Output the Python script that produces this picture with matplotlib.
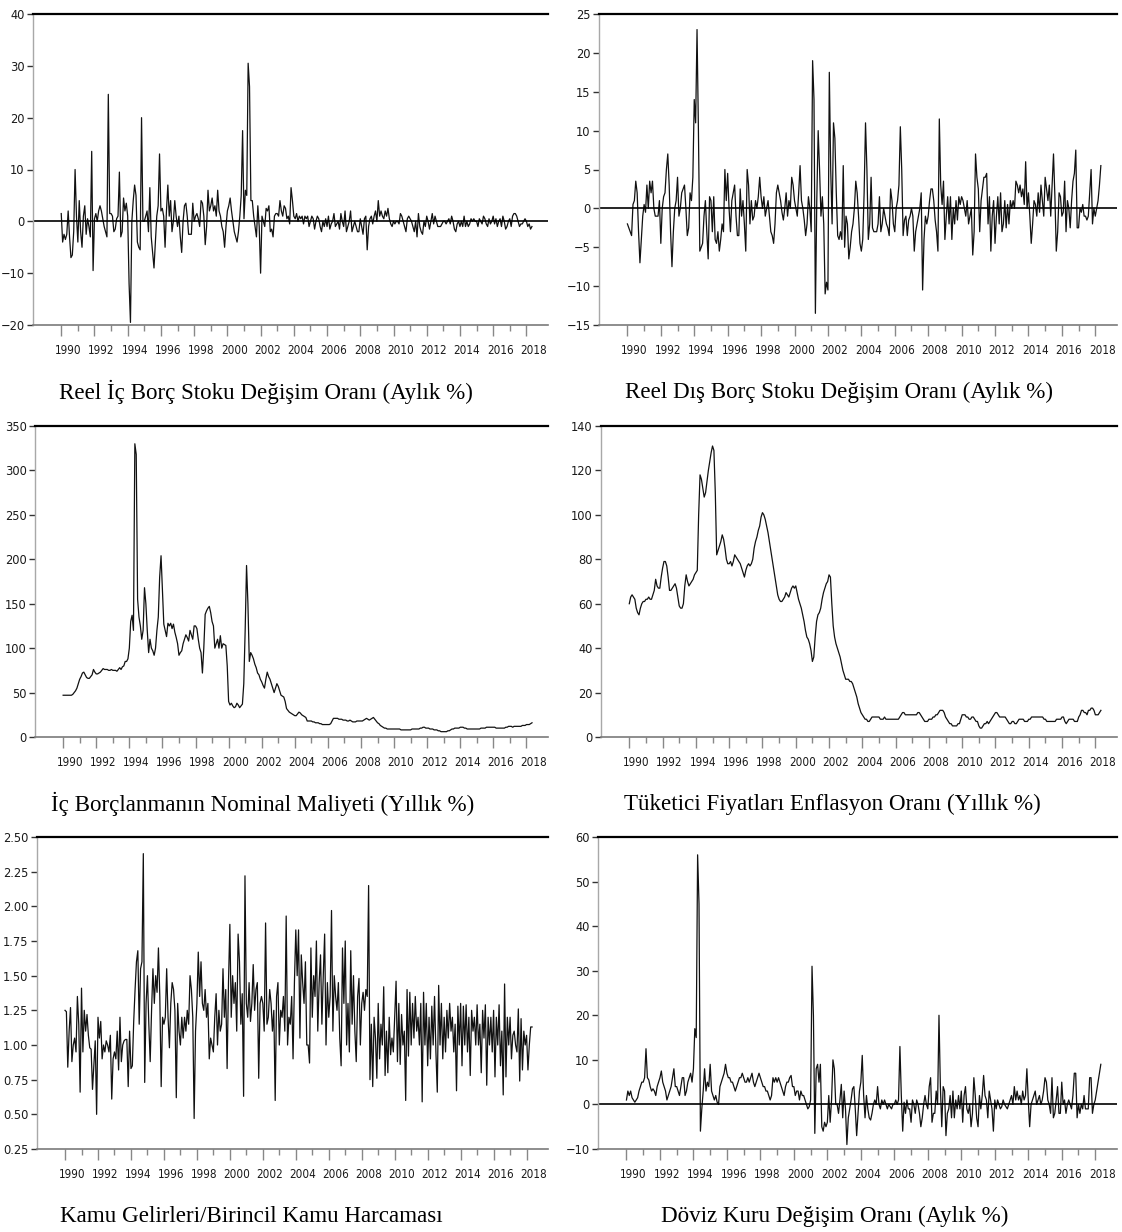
import numpy as np
import matplotlib
matplotlib.use("Agg")
from matplotlib import pyplot as plt
from matplotlib import font_manager as fm
from matplotlib.transforms import ScaledTranslation

# monthly data 1990:01 - 2018:05
reel_ic_borc = [
    1.5, -4, -2.5, -3.5, -2.5, 2, -3, -7, -6.5, -2, 10, 1,
    -4, 4, -2, -5, 1, 3, -2.5, 0.5, -1, -3, 13.5, -9.5,
    0.5, 1.5, 0, 2, 3, 2, 0.5, -1, -2, -3, 24.5, 1.5,
    1.5, 1, -2, -1.5, 0.5, 1, 9.5, -3, -2, 4.5, 2, 3.5,
    1, -12, -19.5, 0, 4, 7, 5, -4, -5, -5.5, 20, 0,
    0, 1, 2, -2, 6.5, -3, -6, -9, -4, 1, 3, 13,
    2, 2.5, 1, -5, 2, 7, 1, 4, -2, 0, 4, 1,
    -1, 1, -3, -6, 0, 3, 3.5, 1, -2.5, -2.5, -2.5, 3.5,
    0, 1, 1.5, 0.5, -1, 4, 3.5, 1, -4.5, -1, 6, 2,
    3, 4.5, 2, 3, 1, 6, 2, 1, -1, -2, -5, -1,
    2, 3, 4.5, 2, 0, -2, -3, -4, -2, 1, 5, 17.5,
    0.5, 6, 5, 30.5, 26, 4, 4, 1, -1, -3, 3, -1,
    -10, 1, 0, -1, 2.5, 2, 3, -2, -1.5, -3, 1, 1.5,
    1.5, 1, 4, 2, 1, 3, 2.5, 0.5, 1, -0.5, 6.5, 4,
    1, 0.5, 1.5, 0, 1, 0.5, 1, -0.5, 1, 0.5, 1, -1,
    0, 1, 0.5, -1.5, 0, 1, 0.5, -1, -2, 0, -1, 0.5,
    -1, 1, -1.5, -0.5, 0, 1.5, -1, -0.5, 0, -1.5, 1.5, 0,
    -1, 2, -2, -1, 0, 2, -2, -1, 0, -1, -2, -2,
    0.5, -1, -2.5, 0.5, 1, -5.5, -1, 0.5, 1, -0.5, 1, 2,
    0, 4, 1, 2, 1, 0.5, 2, 1, 2.5, 0.5, -0.5, -1,
    0, -0.5, 0, 0, -0.5, 1.5, 1, 0, -1, -2, 0.5, 1,
    0.5, 0, -1, -2, 0, -3, 1.5, -1, -2, -2.5, 0, -1,
    1, 0, -1.5, 0, 1.5, -0.5, 1, 0, -1, -1, -1, -0.5,
    0, 0, -0.5, 0, 0.5, -0.5, 1, 0, -1.5, -2, -0.5, 0,
    -1, 0, -1, 1, -1, 0, -1, -0.5, 0.5, 0, 0.5, 0,
    0, -1, 0.5, 0, -0.5, 1, 0.5, -0.5, -1, 0.5, -0.5, 0,
    1, -0.5, 0.5, -1, 0, 0.5, -1, 1, 0, -1.5, -1, 0,
    0.5, -1, 1, 1.5, 1.5, 1, 0, -1, -0.5, -0.5, 0, 0.5,
    0, -1, -0.5, -1.5, -1,
]

reel_dis_borc = [
    -2, -2.5, -3, -3.5, 0.5, 1, 3.5, 2, -3, -7, -4, -1,
    0.5, -0.5, 3, 0, 3.5, 2, 3.5, 0, -1, -1, -1, 1,
    -4.5, 0, 1.5, 2, 5, 7, 3, -3, -7.5, -3, 0, 1,
    4, -1, 0, 2, 2.5, 3, 0, -3.5, -2.5, 2, 1, 4,
    14, 11, 23, 10, -5.5, -5, -4.5, -1, 1, -3, -6.5, 1.5,
    1, -3, 1.5, -4, -4.5, -3, -5.5, -4, -2, -3, 5, 1,
    4.5, 0, -3, 1, 2, 3, -1, -3.5, -3.5, 2.5, -1, 1,
    -2, -5.5, 5, 3, -2, 1, -1.5, -1, 1, 0, 1.5, 4,
    1.5, 0, 1.5, -1, 0, 1, -1, -3, -3.5, -4.5, -2, 2,
    3, 2, 1, -0.5, -1.5, 0, 2, -1, 1, 0, 4, 3,
    1, 0, -1, 2, 5.5, 1, 0, -1.5, -3.5, -2, 1.5, 0,
    -3, 19, 14, -13.5, 1, 10, 5, -1, 1.5, -2, -11, -9.5,
    -10.5, 17.5, 5, -2, 11, 9, 2, -3.5, -4, -3, -4, 5.5,
    -5, -1, -2, -6.5, -5, -3, -2, 0, 3.5, 2, -1, -4.5,
    -5.5, -4, 2, 11, 5, -4, -2, 4, -2.5, -3, -3, -3,
    -2, 1.5, -3, -2, 0, -1, -2, -2.5, -3.5, 2.5, 1, -2,
    -3, 0, 1, 3, 10.5, 5, -3.5, -1.5, -1, -3.5, -1.5, -1,
    0, -1, -5.5, -3, -2, -1, 0, 2, -10.5, -4, -1, -2,
    -1, 1, 2.5, 2.5, 1, -1.5, -3, -5.5, 11.5, 3, 0.5, 3.5,
    -4, -1, 1.5, -2, 1.5, -4, 0, -2, 1, -1.5, 1.5, 0.5,
    1.5, 1, 0, -1, 1, -2, -1, 0, -6, -3, 7, 4,
    2.5, -3, 1, 2.5, 4, 4, 4.5, -2, 1.5, -5.5, -1, 1,
    -4.5, -1, 1.5, -2, 2, -3, -2, 1, -2.5, 0.5, -2, 1,
    0, 1, 0, 3.5, 3, 2, 3, 1.5, 2.5, 0.5, 6, 0,
    2, -1, -4.5, -2, 1, 0.5, -1, 2, -0.5, 3, 1, -1,
    4, 2.5, 1, 3, -1, 3, 7, 1.5, -5.5, -3, 2, 1.5,
    -1, -0.5, 3.5, -3, 1, 0, -2.5, 1, 3.5, 4.5, 7.5, -2.5,
    -2.5, 0, -0.5, 0.5, -1, -1, -1.5, -1, 2, 5, -2, 0,
    -1, 0, 1, 3, 5.5,
]

ic_borc_maliyet = [
    47, 47, 47, 47, 47, 47, 47, 48, 50, 52, 55, 60,
    65, 68, 72, 73, 70, 67, 66, 66, 68, 70, 76, 73,
    71, 71, 72, 73, 75, 77, 76, 76, 76, 75, 75, 76,
    75, 75, 75, 74, 76, 78, 76, 79, 80, 85, 85, 88,
    100, 130, 137, 120, 330, 318, 155, 135, 125, 110, 120, 168,
    150, 120, 95, 110, 100, 97, 92, 100, 120, 135, 180, 204,
    165, 127, 120, 113, 128, 125, 128, 122, 127, 118, 112, 105,
    92, 95, 97, 105, 110, 115, 112, 108, 120, 115, 110, 125,
    125, 122, 110, 100, 95, 72, 100, 138, 142, 145, 147, 140,
    130, 125, 100, 105, 110, 100, 114, 100, 105, 104, 103, 80,
    40, 36, 38, 35, 33, 34, 38, 36, 33, 35, 37, 60,
    120, 193, 150, 85, 95, 92, 88, 82, 78, 72, 70, 65,
    62, 58, 55, 65, 73, 68, 65, 60, 55, 50, 55, 60,
    57, 52, 47, 46, 45, 40, 32, 30, 28, 27, 26, 25,
    24, 24, 26, 28, 27, 25, 24, 23, 22, 18, 18, 18,
    18, 17, 17, 16, 16, 16, 15, 15, 14, 14, 14, 14,
    14, 14, 15, 18, 21, 21, 21, 21, 20, 20, 20, 19,
    19, 19, 18, 18, 19, 18, 17, 17, 17, 18, 18, 18,
    18, 18, 19, 20, 21, 20, 19, 20, 21, 22, 20, 18,
    16, 15, 13, 12, 11, 10, 10, 9, 9, 9, 9, 9,
    9, 9, 9, 9, 9, 8, 8, 8, 8, 8, 8, 8,
    8, 9, 9, 9, 9, 9, 9, 10, 10, 11, 11, 10,
    10, 10, 9, 9, 9, 8, 8, 8, 7, 7, 6, 6,
    6, 6, 6, 7, 7, 8, 9, 9, 10, 10, 10, 10,
    11, 11, 11, 10, 10, 9, 9, 9, 9, 9, 9, 9,
    9, 9, 9, 10, 10, 10, 10, 11, 11, 11, 11, 11,
    11, 11, 10, 10, 10, 10, 10, 10, 10, 11, 11, 12,
    12, 12, 11, 12, 12, 12, 12, 12, 12, 13, 13, 13,
    14, 14, 14, 15, 16,
]

tufe = [
    60, 63, 64, 63, 62, 58, 56, 55, 58, 60, 61, 61,
    62, 62, 63, 62, 62, 64, 66, 71, 68, 67, 67, 72,
    76, 79, 79, 77, 72, 66, 66, 67, 68, 69, 67, 63,
    59, 58, 58, 60, 68, 73, 70, 68, 69, 70, 71, 73,
    74, 75, 100, 118, 116, 112, 108, 110, 115, 120, 124, 128,
    131, 129, 110, 82, 84, 86, 88, 91, 89, 85, 80, 78,
    78, 79, 77, 79, 82, 81, 80, 79, 78, 76, 74, 72,
    75, 77, 78, 77, 78, 80, 85, 88, 90, 93, 95, 99,
    101, 100, 98, 95, 92, 88, 84, 80, 76, 72, 68, 64,
    62, 61, 61, 62, 63, 65, 64, 63, 65, 67, 68, 67,
    68, 65, 62, 60, 58, 55, 52, 48, 45, 44, 42, 39,
    34, 36, 45, 52, 55, 56, 58, 62, 65, 67, 69, 70,
    73, 72, 60, 50, 45, 42, 40, 38, 36, 33, 30, 28,
    26, 26, 26, 25, 25, 24, 22, 20, 18, 15, 13, 11,
    10, 9, 8, 8, 7, 7, 8, 9, 9, 9, 9, 9,
    9, 8, 8, 8, 9, 8, 8, 8, 8, 8, 8, 8,
    8, 8, 8, 9, 10, 11, 11, 10, 10, 10, 10, 10,
    10, 10, 10, 10, 11, 11, 10, 9, 8, 7, 7, 7,
    8, 8, 8, 9, 9, 10, 10, 11, 12, 12, 12, 11,
    9, 8, 7, 6, 6, 5, 5, 5, 5, 6, 6, 8,
    10, 10, 10, 9, 9, 8, 8, 9, 9, 8, 7, 7,
    5, 4, 4, 5, 6, 6, 7, 6, 7, 8, 9, 10,
    11, 11, 10, 9, 9, 9, 9, 9, 8, 7, 6, 6,
    7, 7, 6, 6, 7, 8, 8, 8, 8, 7, 7, 7,
    8, 8, 9, 9, 9, 9, 9, 9, 9, 9, 9, 8,
    8, 7, 7, 7, 7, 7, 7, 7, 8, 8, 8, 8,
    9, 9, 7, 6, 7, 8, 8, 8, 8, 7, 7, 7,
    9, 10, 12, 12, 11, 11, 10, 12, 12, 13, 13, 12,
    10, 10, 10, 11, 12,
]

kamu_gelir_harcama = [
    1.25, 1.24, 0.84, 1.1, 1.27, 0.88, 1.0, 1.05, 0.95, 1.35, 1.15, 0.66,
    1.41, 0.95, 1.25, 1.1, 1.22, 1.07, 0.98, 0.97, 0.68, 0.85, 1.03, 0.5,
    1.2, 1.05, 1.17, 0.9, 1.0, 0.95, 1.03, 1.0, 0.95, 1.07, 0.61, 0.9,
    0.95, 0.9, 1.1, 0.82, 1.2, 0.88, 1.0, 1.03, 1.04, 1.04, 0.7, 1.1,
    0.83, 0.85, 1.17, 1.4, 1.6, 1.68, 1.15, 1.55, 1.6, 2.38, 0.73, 1.3,
    1.5, 1.15, 0.88, 1.25, 1.55, 1.3, 1.5, 1.38, 1.7, 1.35, 0.7, 1.2,
    1.15, 1.2, 1.55, 1.2, 0.98, 1.3, 1.45, 1.4, 1.25, 0.62, 1.3, 1.1,
    1.0, 1.2, 1.05, 1.2, 1.1, 1.25, 1.15, 1.5, 1.4, 1.2, 0.47, 1.1,
    1.3, 1.67, 1.35, 1.6, 1.3, 1.25, 1.4, 1.2, 1.3, 0.9, 1.05, 1.0,
    0.95, 1.2, 1.37, 1.0, 1.25, 1.1, 1.15, 1.55, 1.2, 1.4, 0.83, 1.45,
    1.87, 1.2, 1.5, 1.3, 1.45, 1.1, 1.8, 1.6, 1.15, 1.37, 0.63, 2.22,
    1.3, 1.2, 1.45, 1.17, 1.3, 1.58, 1.25, 1.4, 1.45, 0.76, 1.3, 1.35,
    1.3, 1.1, 1.88, 1.15, 1.2, 1.4, 1.3, 1.1, 1.25, 0.6, 1.35, 1.45,
    1.0, 1.25, 1.2, 1.35, 1.1, 1.93, 1.0, 1.2, 1.15, 1.35, 0.9, 1.45,
    1.83, 1.5, 1.83, 1.05, 1.65, 1.45, 1.3, 1.6, 1.0, 1.0, 0.87, 1.7,
    1.2, 1.5, 1.35, 1.75, 1.1, 1.45, 1.65, 1.15, 1.5, 1.8, 1.0, 1.45,
    1.2, 1.35, 1.97, 1.1, 1.5, 1.35, 1.25, 1.45, 1.05, 0.85, 1.7, 1.3,
    1.75, 1.0, 1.3, 0.95, 1.68, 1.15, 1.5, 1.1, 0.88, 1.35, 1.48, 1.0,
    1.3, 1.38, 1.25, 1.4, 1.35, 2.15, 0.75, 1.15, 0.7, 1.2, 1.05, 0.76,
    1.3, 0.9, 1.15, 1.0, 1.42, 0.78, 1.1, 0.8, 1.2, 0.93, 1.05, 0.95,
    1.2, 1.46, 0.88, 1.3, 0.86, 1.22, 1.0, 1.1, 0.6, 1.4, 0.92, 1.38,
    1.0, 1.3, 1.05, 1.35, 1.1, 1.2, 1.0, 1.3, 0.59, 1.38, 1.0, 1.3,
    0.85, 1.2, 0.9, 1.28, 1.0, 1.35, 0.95, 0.66, 1.43, 1.0, 1.3, 0.9,
    1.2, 0.95, 1.25, 1.05, 1.3, 1.1, 1.2, 0.95, 1.15, 0.67, 1.28, 1.0,
    1.3, 0.85, 1.28, 1.0, 1.29, 0.95, 1.2, 0.78, 1.25, 1.1, 1.2, 1.0,
    1.29, 1.0, 1.15, 0.8, 1.25, 1.05, 1.29, 0.71, 1.2, 1.0, 1.2, 0.95,
    1.25, 0.77, 1.2, 1.0, 1.29, 0.85, 1.1, 0.64, 1.44, 0.77, 1.2, 1.0,
    1.2, 0.9, 1.07, 1.1, 1.0, 0.95, 1.26, 0.74, 1.19, 0.82, 1.1, 1.0,
    1.07, 0.82, 1.0, 1.13, 1.13,
]

doviz_kuru = [
    1, 3, 2, 3, 1.5, 1, 0.5, 1, 1.5, 3, 4, 5,
    5, 6, 12.5, 6, 5.5, 4, 3, 3.5, 3, 2, 4, 5,
    6, 7.5, 5, 4, 3, 1, 2, 3, 4, 6, 8, 4,
    4, 3, 2, 4, 6, 6, 2, 3, 5, 6, 7, 5,
    8, 17, 15, 56, 45, -6, -1, 3, 8, 3, 5, 4,
    9, 3, 2, 1, 2, 0.5, 0, 4, 5, 6, 7, 9,
    7, 6, 6, 5, 5, 4, 3, 4, 5, 6, 6, 7,
    6, 5, 5, 6, 5, 6, 7, 5, 4, 5, 6, 7,
    6, 5, 4, 4, 3, 3, 2, 1, 2, 6, 5, 6,
    5, 6, 5, 4, 3, 2, 4, 5, 5, 6, 6.5, 4,
    4, 2, 3, 3, 1, 3, 2, 2, 1, 0, -1, -0.5,
    1, 31, 20, -6.5, 8, 9, 5, 9, -5, -6, -4, -5,
    -4, 2, -4, 1, 10, 8, 0, 0, -2, 1, 4.5, -3,
    3, -1, -9, -3, -1, 1, 3.5, 4, -1, -7, -2, 3,
    5, 11, 2, -3, 2, -1, -3, -3.5, -2, 0, 1, 0,
    4, 0, -1, 1, 0, 1, 0, -1, 0, -0.5, -1, 0,
    0, 1, 0, 1, 13, 2, -6, 0.5, -2, 1, -1, -1,
    -4, 1, 0, -2, 1, 0, -2, -5, -3, 0, 2, 0,
    -1, 4, 6, -4, -2, -2, 3, 0, 20, 4, -5, 4,
    3, -7, -2, -1, 2, -3, 3, -3, 1, -1, 2, -1,
    3, -4, 2, 4, -1, -2, 0, -5, -2, 6, 2, -3,
    -5, 2, -1, 2, 6.5, 2, 1, -3, 3, 1, -1, -6,
    1, -1, 1, 0, -1, -0.5, 1, 0, -0.5, -1, 0, 1,
    2, 0, 4, 1, 3, 1, 2, 0, 3, 1, 2, 8,
    1, -5, 0, 1, 2, 3, 0, 1, 2, 0, 1, 3,
    6, 5, 1, 0, -2, 6, -3, -2, 1, 4, -2, -2,
    5, 0, 1, -2, 0, 1, 0, -1, 2, 7, 7, -3,
    0, -2, 0, -1, 2, -1, -1, -1, 6, 6, -2, 0,
    1, 3, 5, 7, 9,
]

titles = [
    "Reel İç Borç Stoku Değişim Oranı (Aylık %)",
    "Reel Dış Borç Stoku Değişim Oranı (Aylık %)",
    "İç Borçlanmanın Nominal Maliyeti (Yıllık %)",
    "Tüketici Fiyatları Enflasyon Oranı (Yıllık %)",
    "Kamu Gelirleri/Birincil Kamu Harcaması",
    "Döviz Kuru Değişim Oranı (Aylık %)",
]
series = [reel_ic_borc, reel_dis_borc, ic_borc_maliyet, tufe,
          kamu_gelir_harcama, doviz_kuru]
yticks = [
    np.arange(-20, 41, 10),
    np.arange(-15, 26, 5),
    np.arange(0, 351, 50),
    np.arange(0, 141, 20),
    np.arange(0.25, 2.51, 0.25),
    np.arange(-10, 61, 10),
]
zero_line = [True, True, False, False, False, True]

# axes boxes in pixels: left, right, top, bottom
W, H = 1122, 1232
boxes = [
    (33, 548, 14, 325),
    (599, 1117, 14, 325),
    (35, 548, 426, 737),
    (601, 1117, 426, 737),
    (37, 548, 837, 1149),
    (598, 1117, 837, 1149),
]
title_cx = [266, 839, 263, 832, 251, 835]


def pick_tick_font(size):
    # the reference uses a narrow face for tick labels; use one if present
    narrow = [f for f in fm.fontManager.ttflist
              if f.style == "normal" and f.weight in (400, "normal")
              and ("Narrow" in f.name or "Condensed" in f.name
                   or f.stretch in ("condensed", "semi-condensed"))]
    for pref in ("Liberation Sans Narrow", "DejaVu Sans", "Roboto", "Open Sans"):
        for f in narrow:
            if f.name.startswith(pref):
                return fm.FontProperties(fname=f.fname, size=size)
    if narrow:
        return fm.FontProperties(fname=narrow[0].fname, size=size)
    return fm.FontProperties(family="Liberation Sans", size=size * 0.85)


xtick_fp = pick_tick_font(8.4)
ytick_fp = pick_tick_font(9.2)
title_font = ["Liberation Serif", "DejaVu Serif"]

fig = plt.figure(figsize=(W / 100, H / 100), dpi=100)

for k, vals in enumerate(series):
    l, r, t, b = boxes[k]
    ax = fig.add_axes([l / W, 1 - b / H, (r - l) / W, (b - t) / H])
    x = 1990 + np.arange(len(vals)) / 12
    ax.plot(x, vals, color="#111111", linewidth=0.9)
    if zero_line[k]:
        ax.axhline(0, color="black", linewidth=1.2)

    yt = yticks[k]
    ax.set_ylim(yt[0], yt[-1])
    ax.set_yticks(yt)
    if k == 4:
        ax.set_yticklabels([f"{v:.2f}" for v in yt])
    ax.set_xlim(1988.3, 2019.3)
    ax.set_xticks(np.arange(1990, 2019, 2))
    ax.set_xticks(np.arange(1991, 2018, 2), minor=True)

    ax.spines["right"].set_visible(False)
    ax.spines["top"].set_color("black")
    ax.spines["top"].set_linewidth(1.6)
    ax.spines["left"].set_color("#a8a8a8")
    ax.spines["left"].set_linewidth(1.0)
    ax.spines["bottom"].set_color("#7a7a7a")
    ax.spines["bottom"].set_linewidth(1.2)

    ax.tick_params(axis="y", direction="out", length=4, width=1,
                   color="#333333", pad=2)
    ax.tick_params(axis="x", which="major", direction="out", length=8,
                   width=1, color="#888888", pad=6)
    ax.tick_params(axis="x", which="minor", direction="out", length=4,
                   width=1, color="#888888")
    offset = ScaledTranslation(7 / 100, 0, fig.dpi_scale_trans)
    for lab in ax.get_xticklabels():
        lab.set_transform(lab.get_transform() + offset)
        lab.set_fontproperties(xtick_fp)
        lab.set_color("#1a1a1a")
    for lab in ax.get_yticklabels():
        lab.set_fontproperties(ytick_fp)
        lab.set_color("#1a1a1a")

    fig.text(title_cx[k] / W, 1 - (b + 67) / H, titles[k], ha="center",
             va="center", fontsize=16.6, family=title_font, color="black")

fig.savefig("out.png", dpi=100)
